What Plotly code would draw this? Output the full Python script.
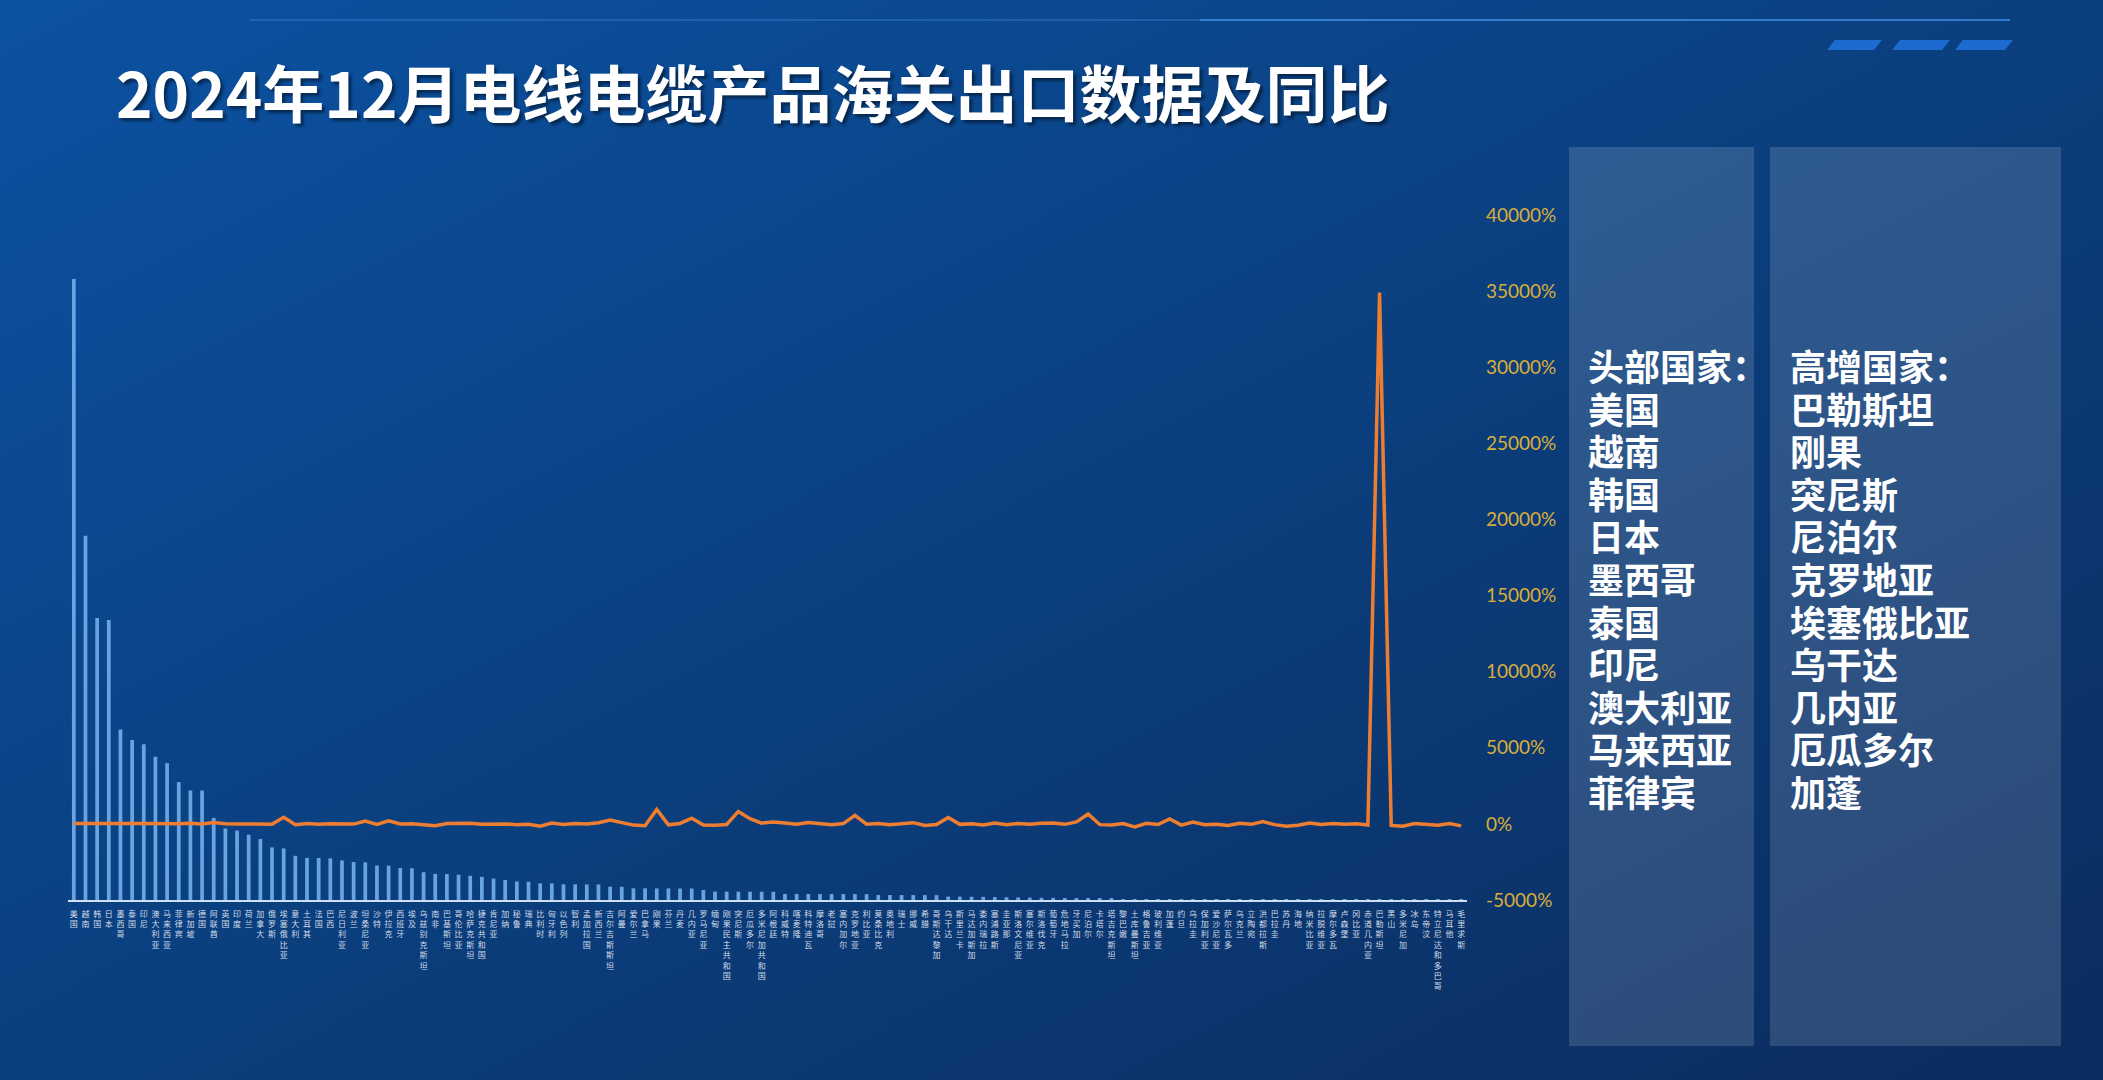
import base64
import plotly.graph_objects as go

# ---------------- data ----------------
countries = [
    "美国", "越南", "韩国", "日本", "墨西哥", "泰国", "印尼", "澳大利亚", "马来西亚", "菲律宾",
    "新加坡", "德国", "阿联酋", "英国", "印度", "荷兰", "加拿大", "俄罗斯", "埃塞俄比亚", "意大利",
    "土耳其", "法国", "巴西", "尼日利亚", "波兰", "坦桑尼亚", "沙特", "伊拉克", "西班牙", "埃及",
    "乌兹别克斯坦", "南非", "巴基斯坦", "哥伦比亚", "哈萨克斯坦", "捷克共和国", "肯尼亚", "加纳", "秘鲁", "瑞典",
    "比利时", "匈牙利", "以色列", "智利", "孟加拉国", "新西兰", "吉尔吉斯斯坦", "阿曼", "爱尔兰", "巴拿马",
    "刚果", "芬兰", "丹麦", "几内亚", "罗马尼亚", "缅甸", "刚果民主共和国", "突尼斯", "厄瓜多尔", "多米尼加共和国",
    "阿根廷", "科威特", "喀麦隆", "科特迪瓦", "摩洛哥", "老挝", "塞内加尔", "克罗地亚", "利比亚", "莫桑比克",
    "奥地利", "瑞士", "挪威", "希腊", "哥斯达黎加", "乌干达", "斯里兰卡", "马达加斯加", "委内瑞拉", "塞浦路斯",
    "圭亚那", "斯洛文尼亚", "塞尔维亚", "斯洛伐克", "葡萄牙", "危地马拉", "牙买加", "尼泊尔", "卡塔尔", "塔吉克斯坦",
    "黎巴嫩", "土库曼斯坦", "格鲁吉亚", "玻利维亚", "加蓬", "约旦", "乌拉圭", "保加利亚", "爱沙尼亚", "萨尔瓦多",
    "乌克兰", "立陶宛", "洪都拉斯", "巴拉圭", "苏丹", "海地", "纳米比亚", "拉脱维亚", "摩尔多瓦", "卢森堡",
    "冈比亚", "赤道几内亚", "巴勒斯坦", "黑山", "多米尼加", "冰岛", "东帝汶", "特立尼达和多巴哥", "马耳他", "毛里求斯",
]

# export value (estimated, 万美元)
export_value = [
    29500, 17300, 13400, 13300, 8100, 7600, 7400, 6800, 6500, 5600,
    5200, 5200, 3900, 3400, 3300, 3100, 2900, 2500, 2450, 2100,
    2000, 2000, 1980, 1880, 1800, 1790, 1640, 1630, 1520, 1510,
    1320, 1240, 1230, 1200, 1150, 1100, 1020, 950, 880, 870,
    790, 790, 745, 745, 740, 740, 635, 630, 555, 555,
    550, 550, 545, 545, 475, 400, 398, 396, 395, 392,
    390, 290, 288, 286, 284, 283, 282, 280, 278, 240,
    238, 236, 235, 233, 230, 160, 158, 155, 150, 140,
    130, 127, 110, 105, 100, 95, 92, 90, 85, 80,
    45, 42, 40, 38, 36, 35, 33, 31, 30, 28,
    27, 25, 24, 22, 21, 20, 18, 17, 16, 15,
    14, 13, 12, 11, 10, 9, 8, 7, 6, 5,
]

# year-on-year change (%)
yoy_pct = [
    20, 30, 15, 10, 60, 25, 20, 5, 35, 10,
    40, -5, 90, 10, -10, 0, 15, -20, 430, -60,
    30, -20, 10, 20, -15, 180, -40, 200, -10, 5,
    -80, -120, 30, 60, 40, -30, 10, 0, -50, -20,
    -150, 50, -40, 20, -10, 80, 250, 60, -80, -120,
    950, -60, 30, 370, -70, -90, -40, 820, 340, 50,
    120, 60, -30, 90, 40, -60, 20, 560, -20, 30,
    -50, 10, 80, -100, -40, 420, -30, 10, -70, 50,
    -60, 20, -20, 40, 60, -30, 130, 650, -50, -80,
    20, -200, 40, -40, 320, -80, 120, -60, -20, -100,
    40, -30, 150, -50, -150, -90, 60, -40, 20, -30,
    10, -80, 34900, -100, -150, 20, -40, -90, 30, -130,
]

right_tick_vals = [-5000, 0, 5000, 10000, 15000, 20000, 25000, 30000, 35000, 40000]
right_tick_text = ["-5000%", "0%", "5000%", "10000%", "15000%", "20000%", "25000%", "30000%", "35000%", "40000%"]

title_text = "2024年12月电线电缆产品海关出口数据及同比"
top_title = "头部国家："
top_list = ["美国", "越南", "韩国", "日本", "墨西哥", "泰国", "印尼", "澳大利亚", "马来西亚", "菲律宾"]
growth_title = "高增国家："
growth_list = ["巴勒斯坦", "刚果", "突尼斯", "尼泊尔", "克罗地亚", "埃塞俄比亚", "乌干达", "几内亚", "厄瓜多尔", "加蓬"]

# ---------------- layout helpers ----------------
W, H = 2103, 1080


def px(x):
    return x / W


def py(y):
    return 1 - y / H


vertical_labels = ["<br>".join(list(c)) for c in countries]

CJK = "Noto Sans CJK SC"

fig = go.Figure()
fig.add_trace(go.Bar(
    x=countries, y=export_value, name="出口额",
    marker=dict(color="#67A4E0", line=dict(width=0)),
    yaxis="y",
))
fig.add_trace(go.Scatter(
    x=countries, y=yoy_pct, name="同比", mode="lines",
    line=dict(color="#ED7D31", width=3.5),
    yaxis="y2",
))

# background gradient as an svg image
svg = (
    '<svg xmlns="http://www.w3.org/2000/svg" width="2103" height="1080">'
    '<defs><linearGradient id="g" x1="0" y1="0" x2="1" y2="1">'
    '<stop offset="0" stop-color="#0B52A2"/>'
    '<stop offset="0.5" stop-color="#0B3F7E"/>'
    '<stop offset="1" stop-color="#0B2C5E"/>'
    '</linearGradient></defs>'
    '<rect width="2103" height="1080" fill="url(#g)"/></svg>'
)
bg_src = "data:image/svg+xml;base64," + base64.b64encode(svg.encode()).decode()

shapes = [
    # right-hand panels
    dict(type="rect", xref="paper", yref="paper", x0=px(1569), x1=px(1754), y0=py(1046), y1=py(147),
         fillcolor="rgba(255,255,255,0.14)", line=dict(width=0), layer="below"),
    dict(type="rect", xref="paper", yref="paper", x0=px(1770), x1=px(2061), y0=py(1046), y1=py(147),
         fillcolor="rgba(255,255,255,0.14)", line=dict(width=0), layer="below"),
    # top thin line
    dict(type="line", xref="paper", yref="paper", x0=px(250), x1=px(1200), y0=py(20), y1=py(20),
         line=dict(color="rgba(70,140,220,0.35)", width=2)),
    dict(type="line", xref="paper", yref="paper", x0=px(1200), x1=px(2010), y0=py(20), y1=py(20),
         line=dict(color="rgba(70,150,235,0.7)", width=2)),
]
# top-right slanted dashes
for x0, x1 in [(1830, 1877), (1895, 1945), (1958, 2008)]:
    path = (f"M {px(x0 + 5)} {py(40)} L {px(x1 + 5)} {py(40)} "
            f"L {px(x1 - 3)} {py(50)} L {px(x0 - 3)} {py(50)} Z")
    shapes.append(dict(type="path", xref="paper", yref="paper", path=path,
                       fillcolor="#1D6AD0", line=dict(width=0)))

annotations = [
    dict(text=title_text, x=px(114), y=py(91), xref="paper", yref="paper",
         xanchor="left", yanchor="middle", showarrow=False,
         font=dict(family=CJK, size=62, color="white", weight="bold",
                   shadow="3px 3px 3px rgba(0,0,0,0.45)")),
]
# right-hand lists: one multi-line block per panel; base size sets 42.6px line spacing,
# glyphs enlarged to 36px through a span style
line_y0, line_dy = 365, 42.6
for col_x, head, items in [(1586, top_title, top_list), (1788, growth_title, growth_list)]:
    block = "<br>".join(f'<span style="font-size:36px">{t}</span>' for t in [head] + items)
    annotations.append(dict(
        text=block, x=px(col_x), y=py(line_y0 + 5 * line_dy), xref="paper", yref="paper",
        xanchor="left", yanchor="middle", align="left", showarrow=False,
        font=dict(family=CJK, size=line_dy / 1.3, color="white", weight="bold")))

fig.update_layout(
    width=W, height=H,
    margin=dict(l=0, r=0, t=0, b=0, pad=0, autoexpand=False),
    paper_bgcolor="#0B3E7C",
    plot_bgcolor="rgba(0,0,0,0)",
    showlegend=False,
    bargap=0.68,
    images=[dict(source=bg_src, xref="paper", yref="paper", x=0, y=1, sizex=1, sizey=1,
                 xanchor="left", yanchor="top", sizing="stretch", layer="below")],
    shapes=shapes,
    annotations=annotations,
    xaxis=dict(
        domain=[px(68), px(1467)], anchor="y", type="category", automargin=False,
        tickmode="array", tickvals=countries, ticktext=vertical_labels,
        tickangle=0, ticks="", ticklabelstandoff=5,
        tickfont=dict(family=CJK, size=8, color="#D3DCE8"),
        showline=True, linecolor="#CFE0F3", linewidth=2,
        showgrid=False, zeroline=False,
    ),
    yaxis=dict(
        domain=[py(900), py(215)], range=[0, 32540], automargin=False,
        showticklabels=False, showgrid=False, zeroline=False, showline=False,
    ),
    yaxis2=dict(
        overlaying="y", side="right", anchor="x", range=[-5000, 40000], automargin=False,
        tickmode="array", tickvals=right_tick_vals, ticktext=right_tick_text,
        tickfont=dict(family="Lato", size=19, color="#D8AE3C"),
        ticks="", ticklabelstandoff=18,
        showgrid=False, zeroline=False, showline=False,
    ),
)

fig.write_html(
    "out.html",
    config={"displayModeBar": False},
    post_script="document.body.style.margin='0';document.body.style.overflow='hidden';",
)
